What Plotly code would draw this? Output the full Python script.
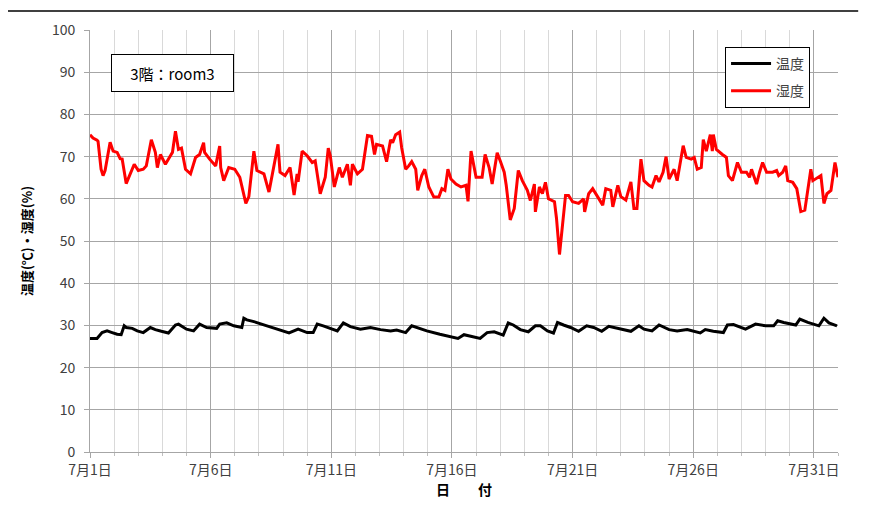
import plotly.graph_objects as go

# Humidity (%) readings: hours since 7/1 00:00 and value
hum_hours = [0, 3, 7, 8, 11, 13, 15, 20, 23, 27, 30, 32, 36, 40, 44, 48, 53, 56, 61, 65,
             67, 70, 75, 80, 82, 85, 88, 91, 95, 100, 105, 109, 113, 114, 119, 125, 129, 130, 133, 138,
             144, 149, 155, 158, 163, 166, 173, 178, 181, 187, 189, 194, 199, 203, 206, 207, 211, 216, 221, 224,
             229, 234, 237, 239, 243, 248, 251, 256, 259, 261, 266, 271, 276, 280, 283, 285, 291, 295, 299, 301,
             304, 308, 310, 314, 317, 320, 324, 326, 330, 333, 337, 342, 347, 350, 353, 356, 359, 364, 369, 374,
             376, 379, 384, 390, 393, 397, 400, 405, 408, 412, 414, 418, 422, 426, 430, 435, 438, 442, 443, 447,
             450, 453, 456, 462, 464, 467, 470, 473, 476, 480, 486, 491, 492, 496, 500, 505, 510, 513, 518, 520,
             525, 528, 533, 538, 541, 544, 548, 551, 556, 559, 563, 566, 570, 573, 576, 581, 584, 590, 593, 598,
             601, 604, 608, 610, 613, 617, 619, 620, 623, 629, 633, 635, 639, 644, 648, 653, 656, 658, 663, 666,
             669, 673, 679, 683, 685, 689, 692, 694, 699, 703, 707, 711, 714, 717, 719, 727, 730, 733, 737, 741,
             744]
hum_values = [75.2, 74.4, 73.9, 73.6, 67.0, 65.5, 66.7, 73.4, 71.3, 71.0, 69.5, 69.4, 63.6, 65.9, 68.2, 66.7, 67.0, 67.8, 74.0, 71.0,
              67.4, 70.5, 68.2, 70.2, 71.0, 76.0, 71.7, 72.0, 67.0, 65.9, 69.8, 70.5, 73.3, 71.0, 69.4, 67.8, 72.5, 67.4, 64.3, 67.4,
              67.0, 65.1, 58.9, 60.5, 71.3, 66.7, 65.9, 61.6, 65.5, 72.9, 66.3, 65.5, 67.4, 60.9, 65.9, 64.0, 71.3, 70.2, 68.6, 69.0,
              61.2, 65.1, 72.0, 70.2, 62.8, 67.4, 65.1, 68.2, 63.2, 68.2, 65.9, 67.0, 75.0, 74.8, 70.5, 72.9, 72.5, 68.8, 74.0, 73.3,
              75.2, 75.8, 72.1, 67.0, 67.8, 68.8, 67.0, 62.0, 65.5, 67.0, 62.8, 60.4, 60.4, 62.4, 62.0, 67.0, 64.7, 63.5, 62.8, 63.2,
              59.4, 71.3, 65.1, 65.1, 70.5, 67.4, 63.5, 70.9, 69.0, 66.3, 63.2, 55.0, 57.7, 66.7, 64.3, 62.0, 59.6, 63.5, 56.9, 62.8,
              61.2, 63.9, 60.0, 59.3, 55.4, 46.8, 53.8, 60.8, 60.8, 59.3, 58.9, 60.0, 56.9, 61.2, 62.4, 60.5, 58.5, 62.4, 62.0, 58.1,
              63.2, 60.5, 59.7, 64.0, 57.7, 57.7, 69.4, 64.3, 63.2, 62.8, 65.5, 64.0, 66.3, 70.0, 64.7, 67.0, 64.3, 72.6, 69.8, 69.4,
              69.8, 67.0, 67.4, 74.0, 71.3, 75.2, 71.3, 75.2, 71.7, 70.5, 69.8, 65.5, 64.3, 68.6, 66.3, 66.3, 65.1, 67.0, 63.5, 66.3,
              68.6, 66.3, 66.3, 66.7, 65.5, 66.3, 67.8, 64.3, 63.9, 62.4, 57.0, 57.3, 62.8, 67.0, 64.3, 65.5, 58.9, 61.2, 62.0, 68.6,
              65.1]

# Temperature (deg C) readings: hours since 7/1 00:00 and value
temp_hours = [0, 7, 12, 17, 22, 27, 31, 34, 36, 42, 47, 53, 60, 65, 71, 78, 85, 88, 96, 103,
              109, 116, 126, 129, 136, 143, 151, 153, 156, 163, 176, 189, 198, 207, 216, 222, 226, 232, 246, 252,
              259, 269, 279, 289, 299, 305, 314, 320, 325, 335, 348, 358, 366, 372, 378, 388, 395, 402, 411, 416,
              421, 428, 436, 443, 448, 455, 461, 465, 471, 478, 486, 494, 501, 509, 516, 524, 538, 546, 551, 559,
              566, 576, 584, 594, 607, 612, 620, 630, 634, 640, 652, 662, 672, 680, 684, 690, 702, 706, 714, 725,
              730, 735, 743]
temp_values = [26.9, 26.9, 28.3, 28.7, 28.3, 27.9, 27.8, 29.9, 29.5, 29.3, 28.7, 28.3, 29.5, 29.0, 28.6, 28.2, 30.1, 30.3, 29.1, 28.7,
               30.3, 29.5, 29.3, 30.3, 30.6, 29.9, 29.5, 31.7, 31.3, 30.9, 29.9, 28.9, 28.2, 29.1, 28.3, 28.3, 30.3, 29.9, 28.7, 30.6,
               29.7, 29.1, 29.5, 29.0, 28.7, 28.9, 28.3, 29.9, 29.5, 28.7, 27.9, 27.4, 26.9, 27.8, 27.4, 26.9, 28.3, 28.5, 27.7, 30.6,
               30.1, 29.0, 28.5, 29.9, 29.9, 28.7, 28.2, 30.7, 30.1, 29.5, 28.6, 29.9, 29.5, 28.6, 29.8, 29.3, 28.6, 29.9, 29.1, 28.7,
               30.1, 29.0, 28.7, 29.0, 28.2, 29.0, 28.6, 28.3, 30.1, 30.2, 29.1, 30.3, 29.9, 29.9, 31.1, 30.7, 30.1, 31.5, 30.7, 29.9,
               31.7, 30.6, 29.9]

tick_days = [1, 6, 11, 16, 21, 26, 31]
tick_labels = [f"7月{d}日" for d in tick_days]
y_ticks = [0, 10, 20, 30, 40, 50, 60, 70, 80, 90, 100]

FONT = "Noto Sans CJK JP"

temp_x = [1 + h / 24 for h in temp_hours]
hum_x = [1 + h / 24 for h in hum_hours]

fig = go.Figure()
fig.add_trace(go.Scatter(x=temp_x, y=temp_values, mode="lines", name="温度", legendgroup="t",
                         line=dict(color="#000000", width=3)))
fig.add_trace(go.Scatter(x=hum_x, y=hum_values, mode="lines", name="湿度", legendgroup="h",
                         line=dict(color="#ff0000", width=3)))

fig.update_layout(
    width=861, height=512,
    margin=dict(l=82, r=31, t=22, b=68),
    paper_bgcolor="white", plot_bgcolor="white",
    font=dict(family=FONT, color="#404040", size=13),
    showlegend=True,
    legend=dict(x=0.849, y=0.96, xanchor="left", yanchor="top",
                bgcolor="white", bordercolor="#000000", borderwidth=1,
                font=dict(family=FONT, size=14, color="#404040"),
                itemwidth=40, tracegroupgap=6),
)

fig.update_xaxes(
    range=[1, 32],
    tickvals=tick_days, ticktext=tick_labels,
    showgrid=True, gridcolor="#a6a6a6", gridwidth=1,
    showline=True, linecolor="#a6a6a6", linewidth=1,
    ticks="outside", ticklen=5, tickcolor="#a6a6a6",
    tickfont=dict(family=FONT, size=14, color="#404040"),
    minor=dict(dtick=1, tick0=1, showgrid=True, gridcolor="#d9d9d9", gridwidth=1,
               ticks="outside", ticklen=3, tickcolor="#bfbfbf"),
    zeroline=False,
    title=dict(text="日　　付", font=dict(family=FONT, size=14, color="#000000", weight="bold"),
               standoff=6),
)
fig.update_yaxes(
    range=[0, 100],
    tickvals=y_ticks,
    showgrid=True, gridcolor="#a6a6a6", gridwidth=1,
    showline=True, linecolor="#a6a6a6", linewidth=1,
    ticks="outside", ticklen=5, tickcolor="#a6a6a6",
    ticklabelstandoff=6,
    tickfont=dict(family=FONT, size=14, color="#404040"),
    zeroline=False,
    title=dict(text="温度(℃)・湿度(%)", font=dict(family=FONT, size=13, color="#000000", weight="bold"),
               standoff=16),
)

fig.add_annotation(
    xref="paper", yref="paper", x=0.11, y=0.898, xanchor="center", yanchor="middle",
    text="3階：room3", showarrow=False,
    font=dict(family=FONT, size=15, color="#000000"),
    bgcolor="white", bordercolor="#000000", borderwidth=1,
    width=119, height=34,
)

fig.add_shape(type="line", xref="paper", yref="paper", x0=-0.114, x1=1.027, y0=1.045, y1=1.045,
              line=dict(color="#000000", width=1.5))

fig.write_html("out.html")
